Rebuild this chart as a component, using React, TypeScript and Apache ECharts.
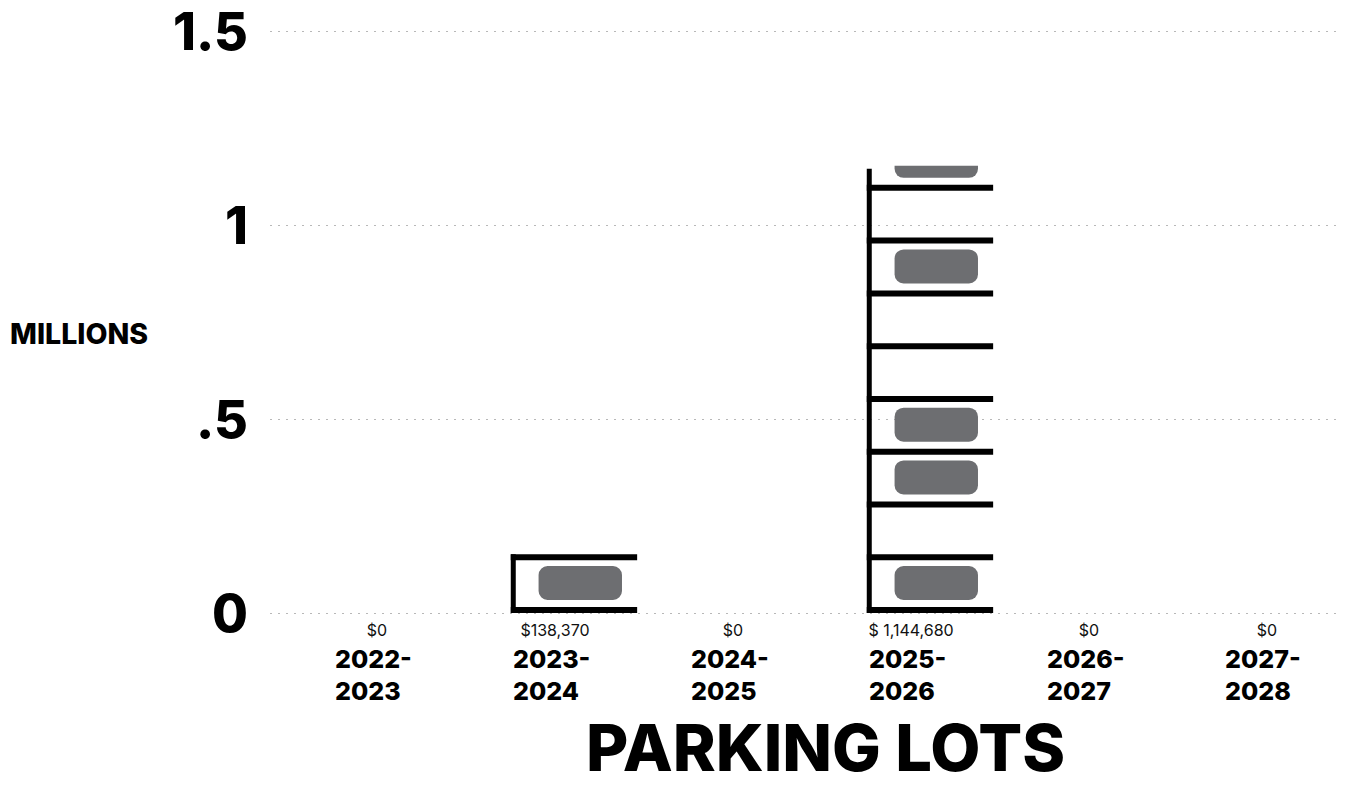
import React, { useEffect, useRef } from "react";
import * as echarts from "echarts";

const categories = ["2022-2023", "2023-2024", "2024-2025", "2025-2026", "2026-2027", "2027-2028"];
const values = [0, 138370, 0, 1144680, 0, 0];
const valueLabels = ["$0", "$138,370", "$0", "$ 1,144,680", "$0", "$0"];
const yTickValues = [0, 500000, 1000000, 1500000];
const yTickLabels = ["0", ".5", "1", "1.5"];
// which parking stalls (from the bottom) hold a car, per category
const occupiedStalls = [[], [1], [], [1, 0, 1, 1, 0, 0, 1, 0, 1], [], []];
const STALL = 136000; // dollars represented by one parking stall

const FONT = "Inter";

export default function App() {
  const ref = useRef<HTMLDivElement>(null);
  useEffect(() => {
    document.body.style.margin = "0";
    const chart = echarts.init(ref.current!, null, { renderer: "svg" });
    const option: any = {
      animation: false,
      backgroundColor: "#ffffff",
      title: {
        text: "PARKING LOTS",
        left: 586,
        top: 715,
        padding: 0,
        textStyle: { fontFamily: FONT, fontSize: 65, lineHeight: 65, fontWeight: 800, color: "#000" },
      },
      graphic: [
        {
          type: "text",
          left: 10,
          top: 319,
          style: { text: "MILLIONS", fontFamily: FONT, fontSize: 28.5, fontWeight: 800, fill: "#000" },
        },
      ],
      grid: [
        { left: 270, right: 16, top: 31, bottom: 176, containLabel: false },
        { left: 288, width: 1086, top: 31, bottom: 176, containLabel: false },
      ],
      xAxis: [
        { type: "value", gridIndex: 0, show: false, min: 0, max: 1 },
        {
          type: "category",
          gridIndex: 1,
          data: categories,
          axisLine: { show: false },
          axisTick: { show: false },
          axisLabel: {
            margin: 4,
            interval: 0,
            formatter: (val: string, idx: number) => {
              const parts = val.split("-");
              return `{v|${valueLabels[idx]}}\n{y|${parts[0]}-}\n{y|${parts[1]}}`;
            },
            rich: {
              v: { fontFamily: FONT, fontSize: 16, color: "#111", width: 84, align: "center", lineHeight: 26 },
              y: { fontFamily: FONT, fontSize: 25, fontWeight: 800, color: "#000", width: 84, align: "left", lineHeight: 32 },
            },
          },
        },
      ],
      yAxis: [
        {
          type: "value",
          gridIndex: 0,
          min: 0,
          max: 1500000,
          interval: 500000,
          axisLine: { show: false },
          axisTick: { show: false },
          axisLabel: {
            margin: 22,
            fontFamily: FONT,
            fontSize: 52,
            fontWeight: 800,
            color: "#000",
            formatter: (v: number) => {
              const i = yTickValues.indexOf(v);
              return i >= 0 ? yTickLabels[i] : "";
            },
          },
          splitLine: { show: true, lineStyle: { color: "#b8b8b8", width: 1, type: [2, 6] } },
        },
        { type: "value", gridIndex: 1, min: 0, max: 1500000, interval: 500000, show: false, splitLine: { show: false } },
      ],
      series: [
        {
          type: "custom",
          xAxisIndex: 1,
          yAxisIndex: 1,
          data: values.map((v, i) => [i, v]),
          renderItem: (params: any, api: any) => {
            const idx = api.value(0);
            const v = api.value(1);
            if (!v) return null;
            const base = api.coord([idx, 0]);
            const top = api.coord([idx, v]);
            const stallPx = api.size([0, STALL])[1];
            const band = api.size([1, 0])[0];
            const barW = band * 0.71;
            const left = base[0] - barW * 0.35;
            const lineH = 6;
            const children: any[] = [];
            let nLines = 0;
            for (let k = 0; k * STALL <= v; k++) nLines = k;
            const lastLineTop = base[1] - nLines * stallPx - lineH;
            const vTop = Math.min(top[1], lastLineTop);
            children.push({
              type: "rect",
              shape: { x: left, y: vTop, width: 5, height: base[1] - vTop },
              style: { fill: "#000" },
            });
            for (let k = 0; k <= nLines; k++) {
              children.push({
                type: "rect",
                shape: { x: left, y: base[1] - k * stallPx - lineH, width: barW, height: lineH },
                style: { fill: "#000" },
              });
            }
            const occ = occupiedStalls[params.dataIndex] || [];
            occ.forEach((o: number, k: number) => {
              if (!o) return;
              const carBottom = base[1] - k * stallPx - lineH - 7;
              const carTop = carBottom - 34;
              if (carBottom <= top[1]) return;
              const clipTop = Math.max(carTop, top[1] - 3);
              children.push({
                type: "rect",
                shape: {
                  x: left + barW * 0.22,
                  y: clipTop,
                  width: barW * 0.66,
                  height: carBottom - clipTop,
                  r: clipTop > carTop ? [0, 0, 9, 9] : 9,
                },
                style: { fill: "#6d6e71" },
              });
            });
            return { type: "group", children };
          },
        },
      ],
    };
    chart.setOption(option);
    return () => chart.dispose();
  }, []);
  return <div ref={ref} style={{ width: 1356, height: 789 }} />;
}
